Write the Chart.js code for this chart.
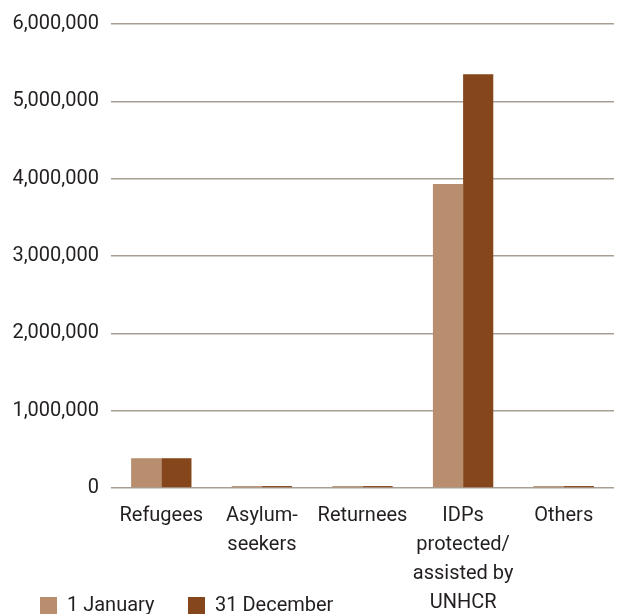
<!DOCTYPE html>
<html>
<head>
<meta charset="utf-8">
<script src="https://cdn.jsdelivr.net/npm/chart.js@4.4.1/dist/chart.umd.min.js"></script>
<style>
    html, body { margin: 0; padding: 0; background: #fff; }
    #wrap { position: relative; width: 618px; height: 614px; }
    .legend-item {
        position: absolute; top: 589px;
        font-family: Roboto, "Liberation Sans", sans-serif;
        font-size: 20px; line-height: 28px; color: #231f20; white-space: nowrap;
    }
    .legend-item span.box { position: absolute; left: 0; top: 8px; width: 17px; height: 17px; }
    .legend-item span.txt { position: absolute; left: 27px; top: 1px; }
</style>
</head>
<body>
<div id="wrap">
    <canvas id="populationChart" width="618" height="614"></canvas>
</div>
<script>
const categories = [
    ["Refugees"],
    ["Asylum-", "seekers"],
    ["Returnees"],
    ["IDPs", "protected/", "assisted by", "UNHCR"],
    ["Others"]
];
const seriesNames = ["1 January", "31 December"];
const january = [385000, 25000, 25000, 3930000, 25000];
const december = [385000, 25000, 25000, 5350000, 25000];
const yTicks = [0, 1000000, 2000000, 3000000, 4000000, 5000000, 6000000];
const colors = ["#b88e6e", "#84461a"];

const fontFamily = 'Roboto, "Liberation Sans", sans-serif';

// legend sits beside the multi-line labels, so keep it in html
const wrap = document.getElementById("wrap");
const legendLeft = [40, 188];
seriesNames.forEach((name, i) => {
    const item = document.createElement("div");
    item.className = "legend-item";
    item.style.left = legendLeft[i] + "px";
    const box = document.createElement("span");
    box.className = "box";
    box.style.background = colors[i];
    const txt = document.createElement("span");
    txt.className = "txt";
    txt.textContent = name;
    item.appendChild(box);
    item.appendChild(txt);
    wrap.appendChild(item);
});

const ctx = document.getElementById("populationChart").getContext("2d");
new Chart(ctx, {
    type: "bar",
    data: {
        labels: categories,
        datasets: [
            { label: seriesNames[0], data: january, backgroundColor: colors[0], borderWidth: 0 },
            { label: seriesNames[1], data: december, backgroundColor: colors[1], borderWidth: 0 }
        ]
    },
    options: {
        responsive: false,
        animation: false,
        layout: { padding: { top: 10, right: 4, left: 0, bottom: 0 } },
        datasets: { bar: { categoryPercentage: 0.6, barPercentage: 1.0 } },
        plugins: {
            legend: { display: false },
            tooltip: { enabled: false }
        },
        scales: {
            x: {
                grid: { display: false, drawTicks: false },
                border: { display: false },
                ticks: {
                    color: "#231f20",
                    padding: 13,
                    maxRotation: 0,
                    autoSkip: false,
                    font: { family: fontFamily, size: 20, lineHeight: 1.46 }
                },
                afterFit: (scale) => { scale.height = 126; }
            },
            y: {
                min: 0,
                max: 6000000,
                afterBuildTicks: (scale) => { scale.ticks = yTicks.map(v => ({ value: v })); },
                grid: { color: "#a89f94", lineWidth: 1.6, drawTicks: false },
                border: { display: false },
                ticks: {
                    color: "#231f20",
                    padding: 12,
                    font: { family: fontFamily, size: 20 },
                    callback: (v) => v.toLocaleString("en-US")
                },
                afterFit: (scale) => { scale.width = 111; }
            }
        }
    }
});
</script>
</body>
</html>
